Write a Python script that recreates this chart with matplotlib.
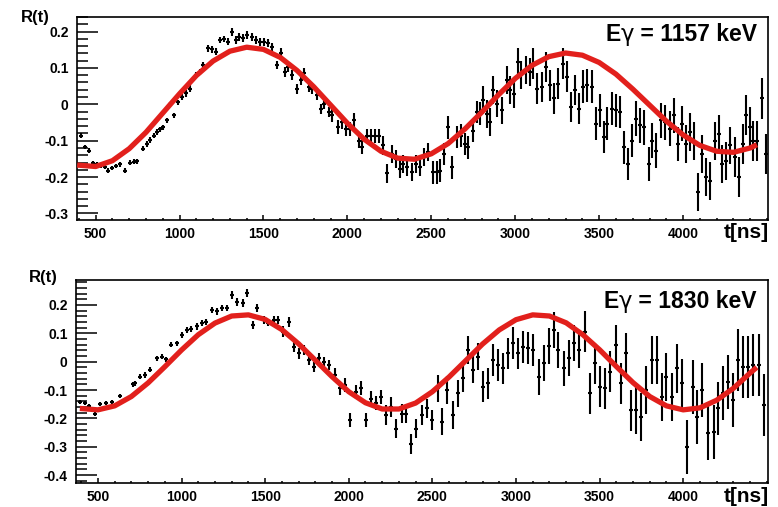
import numpy as np
import matplotlib
matplotlib.use("Agg")
import matplotlib.pyplot as plt
from matplotlib.ticker import MultipleLocator, FuncFormatter

plt.rcParams['font.family'] = ['Liberation Sans', 'DejaVu Sans']
plt.rcParams['font.weight'] = 'bold'
plt.rcParams['axes.unicode_minus'] = False

# ---- upper panel, E = 1157 keV ----
top_t = [410, 435, 459, 485, 509, 533, 553, 574, 600, 624, 648, 677, 703, 727, 749, 782, 806, 826, 845, 864,
         884, 903, 925, 945, 968, 990, 1012, 1037, 1062, 1099, 1120, 1142, 1168, 1192, 1216, 1240, 1265, 1287, 1310, 1334,
         1356, 1380, 1404, 1430, 1455,
         1480, 1503, 1527, 1552, 1578, 1602, 1626, 1645, 1671, 1701, 1721, 1740, 1770, 1790, 1819, 1843, 1863, 1889, 1909, 1943,
         1968, 1994, 2018, 2041, 2067, 2087, 2117, 2140, 2166, 2186, 2212, 2235, 2265, 2289, 2311, 2334, 2358, 2384, 2408, 2433,
         2457, 2483, 2509, 2533, 2553, 2578, 2602, 2626, 2651, 2675, 2701, 2721, 2747, 2770, 2790, 2810, 2834, 2850, 2869, 2889,
         2919, 2949,
         2968, 2992, 3017, 3037, 3063, 3087, 3107, 3131, 3157, 3183, 3206, 3230, 3256, 3282, 3306, 3330, 3355, 3381, 3405, 3429,
         3455, 3480, 3504, 3528, 3548, 3574, 3600, 3623, 3647, 3673, 3698, 3722, 3742, 3766, 3798, 3817, 3841, 3871, 3895, 3921,
         3944, 3970, 3996, 4020, 4044, 4064, 4089, 4113, 4139, 4163, 4188, 4214, 4234, 4258, 4282, 4307, 4333, 4357, 4377, 4397,
         4417, 4440, 4470, 4495]
top_r = [-0.086, -0.118, -0.127, -0.162, -0.164, -0.168, -0.172, -0.182, -0.175, -0.170, -0.165, -0.182, -0.160, -0.158, -0.157, -0.122, -0.109, -0.098, -0.086, -0.076,
         -0.068, -0.063, -0.044, 0.000, -0.030, 0.006, 0.020, 0.030, 0.043, 0.080, 0.089, 0.108, 0.154, 0.151, 0.145, 0.177, 0.180, 0.172, 0.200, 0.177,
         0.186, 0.181, 0.190, 0.184, 0.177,
         0.172, 0.170, 0.168, 0.158, 0.108, 0.140, 0.089, 0.103, 0.080, 0.043, 0.066, 0.085, 0.048, 0.043, 0.025, -0.012, 0.002, -0.021, -0.030, -0.063,
         -0.049, -0.067, -0.067, -0.044, -0.100, -0.118, -0.086, -0.086, -0.086, -0.086, -0.113, -0.190, -0.136, -0.150, -0.178, -0.164, -0.173, -0.187, -0.164, -0.173,
         -0.145, -0.132, -0.187, -0.187, -0.182, -0.136, -0.063, -0.173, -0.090, -0.086, -0.109, -0.118, -0.072, -0.021, -0.026, 0.011, -0.026, -0.049, 0.039, 0.002,
         -0.017, 0.066,
         0.039, 0.029, 0.117, 0.080, 0.094, 0.089, 0.112, 0.043, 0.048, 0.103, 0.052, 0.016, 0.057, 0.112, 0.076, -0.007, 0.039, -0.012, 0.048, 0.052,
         0.048, -0.053, -0.017, -0.090, -0.053, -0.012, -0.017, -0.021, -0.118, -0.164, -0.100, -0.040, -0.058, -0.063, -0.164, -0.100, -0.127, -0.044, -0.049, -0.067,
         -0.030, -0.109, -0.053, -0.109, -0.076, -0.100, -0.242, -0.136, -0.200, -0.210, -0.100, -0.081, -0.164, -0.155, -0.113, -0.145, -0.200, -0.109, -0.030, -0.063,
         -0.100, -0.100, 0.016, -0.136]
# error bar half length, read per time range
err_edges = [700, 1000, 1300, 1600, 1900, 2200, 2500, 2800, 3100, 3400, 3700, 4000, 4300]
top_err_by_range = [0.006, 0.007, 0.009, 0.011, 0.014, 0.019, 0.025, 0.031, 0.038, 0.042, 0.045, 0.048, 0.052, 0.055]

top_fit_t = [390, 500, 600, 700, 800, 900, 1000, 1100, 1200, 1300, 1400, 1500, 1600, 1700, 1800, 1900, 2000, 2100, 2200, 2300,
             2400, 2500, 2600, 2700, 2800, 2900, 3000, 3100, 3200, 3300, 3400, 3500, 3600, 3700, 3800, 3900, 4000, 4100, 4200, 4300,
             4400, 4440]
top_fit_r = [-0.167, -0.171, -0.155, -0.122, -0.077, -0.024, 0.029, 0.079, 0.119, 0.146, 0.157, 0.151, 0.129, 0.093, 0.048, -0.002, -0.052, -0.096, -0.129, -0.148,
             -0.151, -0.136, -0.108, -0.068, -0.022, 0.026, 0.071, 0.107, 0.131, 0.141, 0.135, 0.115, 0.083, 0.042, -0.002, -0.046, -0.084, -0.113, -0.129, -0.132,
             -0.120, -0.111]

# ---- lower panel, E = 1830 keV ----
bot_t = [392, 422, 448, 482, 512, 548, 582, 632, 668, 707, 721, 751, 781, 811, 851, 881, 905, 935, 971, 1001,
         1030, 1054, 1090, 1120, 1146, 1180, 1210, 1240, 1274, 1304, 1330, 1366, 1390, 1426, 1454,
         1492, 1518, 1552, 1578, 1608, 1644, 1672, 1704, 1732, 1764, 1792, 1824, 1852, 1884, 1918, 1948, 1978, 2008, 2044, 2072,
         2104, 2132, 2164, 2194, 2224, 2252, 2284, 2318, 2344, 2374, 2404, 2438, 2468, 2498, 2532, 2558, 2588, 2622, 2652, 2684,
         2712, 2744, 2774, 2804, 2832, 2864, 2892, 2924, 2952,
         2984, 3014, 3040, 3073, 3099, 3139, 3167, 3199, 3227, 3253, 3287, 3319, 3347, 3379, 3413, 3443, 3473, 3503, 3533, 3563,
         3599, 3627, 3659, 3689, 3719, 3747, 3779, 3813, 3843, 3873, 3899, 3933, 3963, 3993, 4023, 4057, 4083, 4113, 4149, 4183,
         4209, 4237, 4269, 4297, 4329, 4357, 4389, 4417, 4453, 4483]
bot_r = [-0.141, -0.147, -0.157, -0.183, -0.150, -0.147, -0.141, -0.120, -0.130, -0.079, -0.077, -0.053, -0.047, -0.029, 0.012, 0.018, 0.008, 0.059, 0.065, 0.094,
         0.112, 0.114, 0.124, 0.135, 0.141, 0.183, 0.177, 0.188, 0.188, 0.236, 0.212, 0.206, 0.241, 0.130, 0.188,
         0.147, 0.138, 0.147, 0.147, 0.106, 0.141, 0.053, 0.029, 0.041, 0.006, -0.018, 0.012, 0.000, -0.012, -0.047, -0.094, -0.082, -0.206, -0.106, -0.094,
         -0.206, -0.130, -0.147, -0.124, -0.188, -0.159, -0.236, -0.183, -0.183, -0.289, -0.236, -0.188, -0.165, -0.206, -0.094, -0.212, -0.100, -0.188, -0.112, -0.059,
         0.041, -0.029, 0.018, -0.088, -0.077, 0.006, -0.012, -0.024, 0.029,
         0.065, 0.029, 0.053, 0.047, 0.041, -0.053, -0.006, 0.055, 0.112, 0.041, -0.024, 0.012, 0.065, 0.041, 0.106, -0.112, -0.006, -0.088, -0.094, -0.035,
         0.059, -0.077, 0.029, -0.171, -0.171, -0.194, -0.100, 0.006, 0.006, -0.124, -0.053, -0.124, -0.024, -0.077, -0.300, -0.088, -0.194, -0.100, -0.253, -0.247,
         -0.165, -0.112, -0.071, -0.135, 0.006, -0.018, -0.018, -0.012, -0.012, -0.153]
bot_err_by_range = [0.007, 0.009, 0.011, 0.014, 0.018, 0.025, 0.035, 0.048, 0.056, 0.063, 0.072, 0.085, 0.095, 0.110]

bot_fit_t = [392, 500, 600, 700, 800, 900, 1000, 1100, 1200, 1300, 1400, 1500, 1600, 1700, 1800, 1900, 2000, 2100, 2200, 2300,
             2400, 2500, 2600, 2700, 2800, 2900, 3000, 3100, 3200, 3300, 3400, 3500, 3600, 3700, 3800, 3900, 4000, 4100, 4200, 4300,
             4400, 4440]
bot_fit_r = [-0.165, -0.170, -0.156, -0.123, -0.075, -0.018, 0.041, 0.095, 0.136, 0.161, 0.165, 0.149, 0.113, 0.063, 0.005, -0.053, -0.106, -0.145, -0.167, -0.167,
             -0.146, -0.106, -0.054, 0.004, 0.062, 0.112, 0.148, 0.165, 0.161, 0.137, 0.095, 0.042, -0.017, -0.074, -0.123, -0.156, -0.170, -0.163, -0.136, -0.094,
             -0.040, -0.020]

x_ticks = [500, 1000, 1500, 2000, 2500, 3000, 3500, 4000]

RED = '#e2201c'
W, H = 778, 507


def fmt_y(v, pos):
    return '%g' % round(v, 2)


def energy_label(ax, ypos, energy):
    # "E" bold, gamma thin (symbol font in the original), rest bold; chained right to left
    rest = ax.text(0.984, ypos, ' = ' + energy + ' keV', transform=ax.transAxes,
                   ha='right', va='center', fontsize=16.5, fontweight='bold')
    gam = ax.annotate('γ', xy=(0, 0), xycoords=rest, ha='right', va='bottom',
                      fontsize=16.5, fontweight='normal', family='DejaVu Sans')
    ax.annotate('E', xy=(0, 0), xycoords=gam, ha='right', va='bottom',
                fontsize=16.5, fontweight='bold')


def panel(rect, t, r, err_by_range, fit_t, fit_r, xlim, ylim, yticks, energy, ypos):
    ax = fig.add_axes(rect)
    t = np.array(t)
    err = np.array(err_by_range)[np.searchsorted(err_edges, t)]
    ax.errorbar(t, r, yerr=err, xerr=12, fmt='none', ecolor='black',
                elinewidth=1.5, capsize=0, zorder=2)
    ax.plot(fit_t, fit_r, color=RED, lw=3.8, solid_capstyle='butt', zorder=3)
    ax.set_xlim(*xlim)
    ax.set_ylim(*ylim)
    ax.set_yticks(yticks)
    ax.set_xticks(x_ticks)
    ax.xaxis.set_minor_locator(MultipleLocator(100))
    ax.yaxis.set_minor_locator(MultipleLocator(0.02))
    ax.yaxis.set_major_formatter(FuncFormatter(fmt_y))
    ax.tick_params(axis='y', which='major', direction='in', length=15, width=1.1, labelsize=10, pad=6)
    ax.tick_params(axis='y', which='minor', direction='in', length=8, width=1.1)
    ax.tick_params(axis='x', which='major', direction='in', length=3.5, width=1.1, labelsize=10, pad=5)
    ax.tick_params(axis='x', which='minor', direction='in', length=1.8, width=1.1)
    for s in ax.spines.values():
        s.set_linewidth(1.2)
    energy_label(ax, ypos, energy)
    return ax


fig = plt.figure(figsize=(W / 100, H / 100), dpi=100)

panel([77 / W, 1 - 220 / H, 691 / W, 203 / H], top_t, top_r, top_err_by_range, top_fit_t, top_fit_r,
      (389, 4506), (-0.318, 0.240), [-0.3, -0.2, -0.1, 0, 0.1, 0.2], '1157', 0.916)
panel([76 / W, 1 - 483 / H, 692 / W, 203 / H], bot_t, bot_r, bot_err_by_range, bot_fit_t, bot_fit_r,
      (369, 4507), (-0.428, 0.288), [-0.4, -0.3, -0.2, -0.1, 0, 0.1, 0.2], '1830', 0.894)

# axis titles, ROOT style
fig.text(50 / W, 1 - 17.5 / H, 'R(t)', ha='right', va='center', fontsize=12, fontweight='bold')
fig.text(58 / W, 1 - 277.5 / H, 'R(t)', ha='right', va='center', fontsize=12, fontweight='bold')
fig.text(769 / W, 1 - 233 / H, 't[ns]', ha='right', va='center', fontsize=15, fontweight='bold')
fig.text(769 / W, 1 - 496 / H, 't[ns]', ha='right', va='center', fontsize=15, fontweight='bold')

fig.savefig('out.png', dpi=100)
